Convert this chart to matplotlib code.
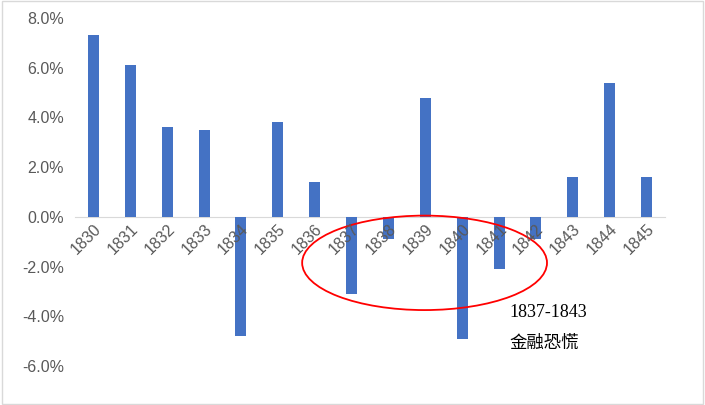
import matplotlib
matplotlib.use("Agg")
import matplotlib.pyplot as plt
from matplotlib.patches import Ellipse
from matplotlib.ticker import FuncFormatter

years = [str(y) for y in range(1830, 1846)]
values = [7.3, 6.1, 3.6, 3.5, -4.8, 3.8, 1.4, -3.1, -0.9, 4.8, -4.9, -2.1, -0.9, 1.6, 5.4, 1.6]

plt.rcParams['font.family'] = ['Noto Sans CJK SC', 'DejaVu Sans']
fig = plt.figure(figsize=(7.05, 4.05), dpi=100)
ax = fig.add_axes([75/705, 1-366/405, 590/705, 348/405])
fig.patches.append(plt.Rectangle((0.003, 0.003), 0.994, 0.994, transform=fig.transFigure,
                                 fill=False, edgecolor='#d9d9d9', lw=1))
x = range(len(years))
ax.bar(x, values, width=0.3, color='#4472C4', zorder=1)
ax.set_xlim(-0.5, 15.5)
ax.set_ylim(-6, 8)
ax.set_yticks([-6, -4, -2, 0, 2, 4, 6, 8])
ax.yaxis.set_major_formatter(FuncFormatter(lambda v, p: f"{v:.1f}%"))
for s in ['top', 'right', 'left']:
    ax.spines[s].set_visible(False)
ax.spines['bottom'].set_position(('data', 0))
ax.spines['bottom'].set_color('#d9d9d9')
ax.spines['bottom'].set_zorder(0.5)
ax.tick_params(axis='y', length=0, labelsize=11.5, labelcolor='#595959', pad=8)
ax.tick_params(axis='x', length=0, labelsize=11.5, labelcolor='#595959', pad=3)
ax.set_xticks(list(x))
ax.set_xticklabels(years, rotation=45, ha='right', rotation_mode='anchor')
ax.xaxis.set_zorder(5)
for lab in ax.get_xticklabels() + ax.get_yticklabels():
    lab.set_family(['Liberation Sans', 'DejaVu Sans'])
ax.add_patch(Ellipse((8.98, -1.85), 6.64, 3.8, fill=False, edgecolor='red', lw=1.3, zorder=3))
ax.text(11.29, -3.86, "1837-1843", fontsize=13, va='center', family=['Liberation Serif', 'DejaVu Serif'])
ax.text(11.29, -5.06, "金融恐慌", fontsize=12.5, va='center')
fig.savefig("out.png", dpi=100)
